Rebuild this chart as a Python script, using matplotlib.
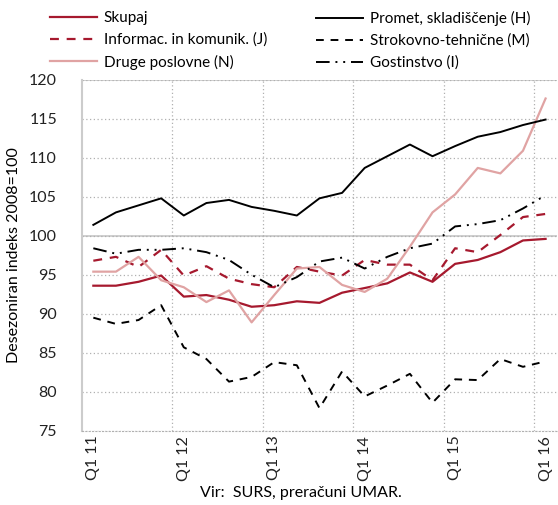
import matplotlib.pyplot as plt

# četrtletja Q1 2011 - Q1 2016
quarters = ['Q1 11', 'Q2 11', 'Q3 11', 'Q4 11',
            'Q1 12', 'Q2 12', 'Q3 12', 'Q4 12',
            'Q1 13', 'Q2 13', 'Q3 13', 'Q4 13',
            'Q1 14', 'Q2 14', 'Q3 14', 'Q4 14',
            'Q1 15', 'Q2 15', 'Q3 15', 'Q4 15',
            'Q1 16']

skupaj = [93.6, 93.6, 94.1, 94.9, 92.2, 92.4, 91.8, 90.9, 91.1, 91.6, 91.4,
          92.7, 93.3, 93.9, 95.3, 94.1, 96.4, 96.9, 97.9, 99.4, 99.6]
promet = [101.4, 103.0, 103.9, 104.8, 102.6, 104.2, 104.6, 103.7, 103.2, 102.6, 104.8,
          105.5, 108.7, 110.2, 111.7, 110.2, 111.5, 112.7, 113.3, 114.2, 114.9]
informac = [96.8, 97.3, 96.0, 98.2, 94.9, 96.1, 94.5, 93.8, 93.4, 96.0, 95.4,
            94.9, 96.9, 96.3, 96.3, 94.3, 98.4, 97.9, 100.1, 102.4, 102.8]
strokovno = [89.5, 88.7, 89.2, 91.1, 85.7, 84.2, 81.3, 81.9, 83.8, 83.4, 77.9,
             82.6, 79.4, 80.8, 82.3, 78.6, 81.6, 81.5, 84.2, 83.2, 83.9]
druge = [95.4, 95.4, 97.3, 94.3, 93.4, 91.5, 93.0, 88.9, 92.4, 95.8, 96.0,
         93.7, 92.8, 94.5, 98.6, 103.0, 105.3, 108.7, 108.0, 110.9, 117.6]
gostinstvo = [98.4, 97.7, 98.2, 98.2, 98.4, 97.9, 96.9, 95.0, 93.4, 94.7, 96.7,
              97.2, 95.8, 97.3, 98.4, 99.0, 101.2, 101.5, 102.0, 103.5, 105.2]

rdeca = '#a6192e'
roza = '#e0a3a3'

plt.rcParams['font.family'] = ['Lato', 'DejaVu Sans']

fig = plt.figure(figsize=(5.58, 5.05), dpi=100)
ax = fig.add_axes([0.147, 0.147, 0.851, 0.695])

x = list(range(len(quarters)))
l1, = ax.plot(x, skupaj, color=rdeca, lw=1.6, label='Skupaj')
l2, = ax.plot(x, informac, color=rdeca, lw=1.6, dashes=(4, 3.5), label='Informac. in komunik. (J)')
l3, = ax.plot(x, druge, color=roza, lw=1.6, label='Druge poslovne (N)')
l4, = ax.plot(x, promet, color='black', lw=1.4, label='Promet, skladiščenje (H)')
l5, = ax.plot(x, strokovno, color='black', lw=1.4, dashes=(4, 3.5), label='Strokovno-tehnične (M)')
l6, = ax.plot(x, gostinstvo, color='black', lw=1.4, dashes=(7, 3, 1, 3, 1, 3), label='Gostinstvo (I)')

ax.set_xlim(-0.5, len(quarters) - 0.5)
ax.set_ylim(75, 120)
ax.set_yticks(range(75, 121, 5))
ax.set_xticks(x[::4])
ax.set_xticklabels(quarters[::4], rotation=90)
ax.set_xticks([3.5, 7.5, 11.5, 15.5, 19.5], minor=True)
ax.tick_params(axis='both', length=0, labelsize=11.5, colors='#222222')
ax.tick_params(axis='x', which='minor', length=0)
ax.tick_params(axis='y', pad=18)

ax.grid(axis='y', which='major', color='#b0b0b0', ls=(0, (1, 2)), lw=0.9)
ax.grid(axis='x', which='minor', color='#b0b0b0', ls=(0, (1, 2)), lw=0.9)
ax.axhline(100, color='#cccccc', lw=1.3, zorder=0.5)
ax.axhline(120, color='#cccccc', lw=1.3, zorder=0.5)

for s in ['right', 'top']:
    ax.spines[s].set_visible(False)
ax.spines['left'].set_color('#cccccc')
ax.spines['left'].set_linewidth(1.5)
ax.spines['bottom'].set_color('#b0b0b0')
ax.spines['bottom'].set_linestyle((0, (1, 2)))

ax.set_ylabel('Desezoniran indeks 2008=100', fontsize=11.5, labelpad=6)

# legenda v dveh stolpcih
kw = dict(loc='upper left', frameon=False, fontsize=11, handlelength=3.1,
          handletextpad=0.45, labelspacing=0.5, borderpad=0, borderaxespad=0)
fig.legend([l1, l2, l3], [l1.get_label(), l2.get_label(), l3.get_label()],
           bbox_to_anchor=(0.089, 0.978), **kw)
fig.legend([l4, l5, l6], [l4.get_label(), l5.get_label(), l6.get_label()],
           bbox_to_anchor=(0.566, 0.978), **kw)

fig.text(0.54, 0.01, 'Vir:  SURS, preračuni UMAR.', ha='center', va='bottom', fontsize=11.5)

fig.savefig('out.png', dpi=100)
